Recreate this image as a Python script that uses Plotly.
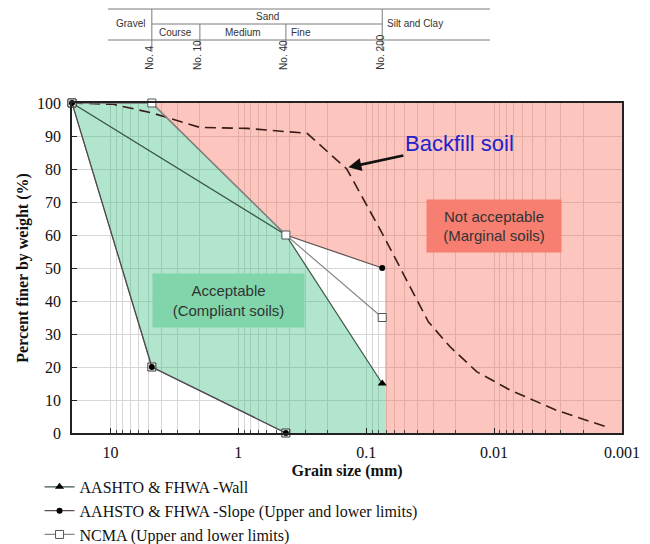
import numpy as np
import plotly.graph_objects as go

# ---------------- data ----------------
sieve_labels = ["No. 4", "No. 10", "No. 40", "No. 200"]
sieve_sizes = [4.75, 2.0, 0.425, 0.075]

x_ticks = [10, 1, 0.1, 0.01, 0.001]
x_tick_labels = ["10", "1", "0.1", "0.01", "0.001"]
y_ticks = list(range(0, 101, 10))

# AASHTO & FHWA - Wall
wall_size = [20, 0.425, 0.075]
wall_pass = [100, 60, 15]

# AASHTO & FHWA - Slope (upper / lower limits)
slope_upper_size = [20, 4.75, 0.425, 0.075]
slope_upper_pass = [100, 100, 60, 50]
slope_lower_size = [20, 4.75, 0.425]
slope_lower_pass = [100, 20, 0]

# NCMA (upper / lower limits)
ncma_upper_size = [20, 4.75, 0.425, 0.075]
ncma_upper_pass = [100, 100, 60, 35]
ncma_lower_size = [20, 4.75, 0.425]
ncma_lower_pass = [100, 20, 0]

# Backfill soil gradation
backfill_size = [20, 9.5, 4.75, 2.0, 0.85, 0.29, 0.142, 0.075, 0.0327,
                 0.0222, 0.0137, 0.0075, 0.0033, 0.00136]
backfill_pass = [100, 99.6, 97, 92.6, 92.3, 90.8, 80, 60.5, 33.7,
                 26.2, 18.6, 13, 7, 2]

# Zones
accept_size = [20, 4.75, 0.425, 0.075, 0.0714, 0.0714, 0.425, 4.75, 20]
accept_pass = [100, 100, 60, 15, 14.4, 0, 0, 20, 100]
reject_size = [4.75, 0.001, 0.001, 0.0714, 0.0714, 0.425, 4.75]
reject_pass = [100, 100, 0, 0, 49.7, 60, 100]

legend_names = ["AASHTO &amp; FHWA -Wall",
                "AAHSTO &amp; FHWA -Slope (Upper and lower limits)",
                "NCMA (Upper and lower limits)"]

SERIF = "Liberation Serif, Times New Roman, serif"
SANS = "Liberation Sans, Arial, sans-serif"

fig = go.Figure()

# zones
fig.add_trace(go.Scatter(x=reject_size, y=reject_pass, mode="lines", fill="toself",
                         fillcolor="rgba(248,110,90,0.40)", line=dict(width=0),
                         showlegend=False, hoverinfo="skip"))
fig.add_trace(go.Scatter(x=accept_size, y=accept_pass, mode="lines", fill="toself",
                         fillcolor="rgba(60,190,130,0.40)", line=dict(width=0),
                         showlegend=False, hoverinfo="skip"))

# backfill
fig.add_trace(go.Scatter(x=backfill_size, y=backfill_pass, mode="lines",
                         line=dict(color="#3a1c18", width=1.6, dash="11px,6px"),
                         showlegend=False, hoverinfo="skip"))

# limits
fig.add_trace(go.Scatter(x=wall_size, y=wall_pass, mode="lines+markers",
                         name=legend_names[0], cliponaxis=False,
                         line=dict(color="#3a5545", width=1.2),
                         marker=dict(symbol="triangle-up", size=8, color="black")))
fig.add_trace(go.Scatter(x=slope_upper_size, y=slope_upper_pass, mode="lines+markers",
                         name=legend_names[1], cliponaxis=False,
                         line=dict(color="#5e5050", width=1.2),
                         marker=dict(symbol="circle", size=6, color="black")))
fig.add_trace(go.Scatter(x=ncma_upper_size, y=ncma_upper_pass, mode="lines+markers",
                         name=legend_names[2], cliponaxis=False,
                         line=dict(color="#888888", width=1.2),
                         marker=dict(symbol="square", size=8, color="white",
                                     line=dict(color="#555555", width=1))))
fig.add_trace(go.Scatter(x=ncma_lower_size, y=ncma_lower_pass, mode="lines+markers",
                         showlegend=False, cliponaxis=False,
                         line=dict(color="#888888", width=1.2),
                         marker=dict(symbol="square", size=8, color="white",
                                     line=dict(color="#333333", width=1))))
fig.add_trace(go.Scatter(x=slope_lower_size, y=slope_lower_pass, mode="lines+markers",
                         showlegend=False, cliponaxis=False,
                         line=dict(color="#4a4a4a", width=1.2),
                         marker=dict(symbol="circle", size=6, color="black")))

# ---------------- header table ----------------
def py(pix):
    return (433 - pix) / 330.0

hdr_line = dict(color="#7a7a7a", width=1)
shapes = [
    dict(type="line", xref="paper", yref="paper", x0=0.0655, x1=0.76, y0=py(9), y1=py(9), line=hdr_line),
    dict(type="line", xref="paper", yref="paper", x0=0.0655, x1=0.76, y0=py(40), y1=py(40), line=hdr_line),
    dict(type="line", xref="x", yref="paper", x0=sieve_sizes[0], x1=sieve_sizes[3],
         y0=py(24), y1=py(24), line=hdr_line),
]
vert_bottom = [52, 46, 50, 50]
vert_top = [9, 24, 24, 9]
for s, yt, yb in zip(sieve_sizes, vert_top, vert_bottom):
    shapes.append(dict(type="line", xref="x", yref="paper", x0=s, x1=s,
                       y0=py(yt), y1=py(yb), line=hdr_line))

hdr_font = dict(family=SANS, size=10, color="#333333")
annotations = []
for lab, s in zip(sieve_labels, sieve_sizes):
    annotations.append(dict(x=np.log10(s), y=py(72), xref="x", yref="paper", text=lab,
                            textangle=-90, showarrow=False, xanchor="center", yanchor="bottom",
                            xshift=-2, font=hdr_font))
annotations += [
    dict(x=(130 - 72) / 550.0, y=py(24), xref="paper", yref="paper", text="Gravel",
         showarrow=False, xanchor="center", yanchor="middle", font=hdr_font),
    dict(x=(np.log10(sieve_sizes[0]) + np.log10(sieve_sizes[3])) / 2, y=py(16.5), xref="x", yref="paper",
         text="Sand", showarrow=False, xanchor="center", yanchor="middle", font=hdr_font),
    dict(x=(np.log10(sieve_sizes[0]) + np.log10(sieve_sizes[1])) / 2, y=py(32), xref="x", yref="paper",
         text="Course", showarrow=False, xanchor="center", yanchor="middle", font=hdr_font),
    dict(x=(np.log10(sieve_sizes[1]) + np.log10(sieve_sizes[2])) / 2, y=py(32), xref="x", yref="paper",
         text="Medium", showarrow=False, xanchor="center", yanchor="middle", font=hdr_font),
    dict(x=np.log10(sieve_sizes[2]), y=py(32), xref="x", yref="paper", xanchor="left", xshift=3,
         yanchor="middle", text="Fine", showarrow=False, font=hdr_font),
    dict(x=np.log10(sieve_sizes[3]), y=py(24), xref="x", yref="paper", xanchor="left", xshift=3,
         yanchor="middle", text="Silt and Clay", showarrow=False, font=hdr_font),
]

# ---------------- plot annotations ----------------
annotations += [
    dict(x=np.log10(1.2), y=40.3, xref="x", yref="y", text="Acceptable<br>(Compliant soils)",
         showarrow=False, bgcolor="#80d6aa", width=145, height=47, borderpad=3,
         font=dict(family=SANS, size=15, color="#333333")),
    dict(x=np.log10(0.0101), y=62.7, xref="x", yref="y", text="Not acceptable<br>(Marginal soils)",
         showarrow=False, bgcolor="#f77f72", width=128, height=46, borderpad=3,
         font=dict(family=SANS, size=15, color="#333333")),
    dict(x=np.log10(0.138), y=80.5, xref="x", yref="y", text="Backfill soil",
         showarrow=True, arrowhead=2, arrowsize=1, arrowwidth=2.6, arrowcolor="#111111",
         ax=111, ay=-24, font=dict(family=SANS, size=22, color="#2222cc")),
]

grid_c = "#d6d6d6"
fig.update_layout(
    width=650, height=544,
    margin=dict(l=72, r=28, t=103, b=111, autoexpand=False),
    paper_bgcolor="white", plot_bgcolor="white",
    shapes=shapes, annotations=annotations,
    showlegend=True,
    legend=dict(x=-0.059, y=-0.112, xanchor="left", yanchor="top", traceorder="normal",
                font=dict(family=SERIF, size=16, color="#111111"),
                bgcolor="rgba(0,0,0,0)", itemwidth=30, tracegroupgap=0),
    xaxis=dict(type="log", range=[np.log10(20), -3],
               tickmode="array", tickvals=x_ticks, ticktext=x_tick_labels,
               ticks="inside", ticklen=5, tickcolor="#222", ticklabelstandoff=4,
               showgrid=True, gridcolor=grid_c, gridwidth=1,
               minor=dict(dtick="D1", showgrid=True, gridcolor=grid_c, gridwidth=1,
                          ticks="inside", ticklen=3, tickcolor="#444"),
               showline=True, linecolor="#222222", linewidth=1.5, mirror=True,
               tickfont=dict(family=SERIF, size=16, color="#111"),
               title=dict(text="Grain size (mm)", standoff=5,
                          font=dict(family=SERIF, size=16, color="#111", weight="bold")),
               zeroline=False),
    yaxis=dict(range=[0, 100], tickmode="array", tickvals=y_ticks,
               ticks="inside", ticklen=5, tickcolor="#222", ticklabelstandoff=6,
               showgrid=True, gridcolor=grid_c, gridwidth=1,
               showline=True, linecolor="#222222", linewidth=1.5, mirror=True,
               tickfont=dict(family=SERIF, size=16, color="#111"),
               title=dict(text="Percent finer by weight (%)", standoff=4,
                          font=dict(family=SERIF, size=16, color="#111", weight="bold")),
               zeroline=False),
)

fig.write_html("out.html")
